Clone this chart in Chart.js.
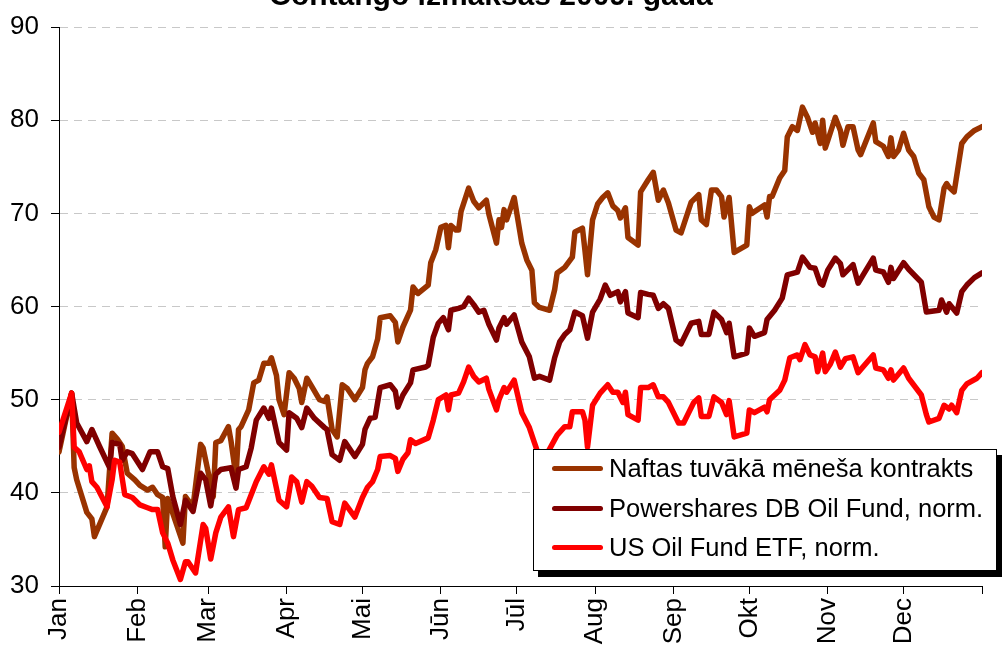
<!DOCTYPE html>
<html>
<head>
<meta charset="utf-8">
<script src="https://cdn.jsdelivr.net/npm/chart.js@4.4.0/dist/chart.umd.min.js"></script>
<style>
html,body{margin:0;padding:0;background:#fff;overflow:hidden;width:1003px;height:649px;}
#wrap{position:absolute;left:0;top:-40px;width:1003px;height:689px;}
#legend{position:absolute;left:533px;top:449px;width:462px;height:120px;border:1px solid #000;background:#fff;box-shadow:5px 6px 0 #000;font-family:"Liberation Sans",Arial,sans-serif;font-size:25.5px;color:#000;}
.row{position:absolute;left:0;height:30px;display:flex;align-items:center;white-space:nowrap;}
.swatch{display:inline-block;width:51px;height:5px;border-radius:3px;margin-left:18px;margin-right:6px;}
</style>
</head>
<body>
<div id="wrap"><canvas id="myChart" width="1003" height="689"></canvas></div>
<div id="legend"></div>
<script>
const chartTitle = "Contango izmaksas 2009. gadā";
const monthLabels = ["Jan","Feb","Mar","Apr","Mai","Jūn","Jūl","Aug","Sep","Okt","Nov","Dec"];
const monthStarts = [0,31,59,90,120,151,181,212,243,273,304,334,365];
const seriesNames = ["Naftas tuvākā mēneša kontrakts","Powershares DB Oil Fund, norm.","US Oil Fund ETF, norm."];
const seriesColors = ["#993300","#800000","#ff0000"];

// Naftas tuvākā mēneša kontrakts (day of year, value)
const naftaDays = [0,5,6,7,11,13,14,19,21,23,25,27,30,32,35,37,39,41,42,43,46,49,50,53,56,57,61,62,64,67,68,70,71,72,75,77,79,81,83,84,86,87,89,91,93,95,96,98,100,103,105,106,108,110,112,114,117,120,121,122,124,126,127,131,133,134,136,139,140,142,146,147,149,151,153,154,155,157,158,159,162,164,166,169,170,173,174,175,176,177,180,183,185,187,188,190,194,196,197,200,203,204,207,208,209,211,213,215,217,219,221,222,224,225,229,230,233,235,237,239,241,244,246,250,253,254,256,258,260,262,263,265,267,272,273,274,279,280,281,282,285,287,288,290,292,294,296,298,299,301,302,303,304,307,309,310,312,314,316,317,322,323,326,328,329,330,332,334,336,338,340,342,344,346,348,350,351,352,354,357,359,362,365];
const naftaVals = [44.4,50.7,42.7,41.4,37.9,37.2,35.3,38.5,46.4,45.8,45.0,42.1,41.4,40.8,40.3,40.6,39.8,39.5,34.2,39.4,37.0,34.6,39.6,38.5,45.2,44.8,39.6,45.4,45.6,47.1,45.6,41.7,46.8,47.1,48.9,51.8,52.1,53.9,53.9,54.5,52.6,50.0,48.4,52.9,52.3,51.2,49.7,52.3,51.4,50.0,49.8,50.3,46.8,46.0,51.6,51.2,50.0,51.3,53.2,53.9,54.6,56.5,58.8,59.0,58.3,56.2,57.8,59.6,62.1,61.4,62.3,64.7,66.1,68.5,68.7,66.3,68.7,68.2,68.2,70.2,72.7,71.3,70.6,71.4,69.9,66.8,69.3,68.5,70.4,69.3,71.7,66.8,65.0,63.9,60.4,59.9,59.6,61.8,63.6,64.2,65.3,68.0,68.4,66.0,63.4,69.3,71.0,71.7,72.2,70.8,70.3,69.5,70.6,67.4,66.6,72.3,73.6,74.4,71.4,72.5,71.1,68.2,67.9,71.2,72.0,69.3,68.8,72.5,72.5,71.8,69.6,71.7,65.8,66.6,70.7,70.0,70.9,69.6,71.8,71.8,73.8,74.6,78.2,79.3,78.9,81.4,80.3,78.7,79.7,77.5,80.0,77.0,77.8,80.3,78.9,77.3,79.3,79.3,76.8,76.3,79.7,77.7,77.2,76.1,78.1,76.1,76.8,78.6,76.8,76.1,74.3,73.6,70.7,69.6,69.3,72.7,73.2,72.8,72.3,77.5,78.2,78.9,79.3];

// Powershares DB Oil Fund, norm.
const psDays = [0,5,7,11,13,16,20,21,24,25,27,29,33,36,39,41,43,45,48,50,53,56,58,60,62,64,68,70,71,74,76,78,81,83,84,87,90,91,94,96,98,101,105,106,108,111,113,117,120,121,123,125,127,131,133,134,136,139,140,145,146,148,150,152,154,155,158,160,162,164,166,168,170,173,174,176,177,180,183,186,188,190,194,196,198,200,202,204,207,209,211,214,216,218,221,222,224,225,229,230,233,235,237,239,241,244,246,250,253,254,257,259,262,264,265,267,272,273,275,279,280,283,286,288,292,294,297,299,301,302,304,307,309,310,314,316,318,322,323,326,328,329,330,334,336,341,343,348,349,351,352,355,357,359,362,365];
const psVals = [44.9,50.7,47.5,45.5,46.8,45.0,42.7,45.4,45.2,43.5,44.4,44.2,42.5,44.4,44.4,42.8,42.6,39.6,36.6,39.2,38.0,42.1,41.4,38.6,42.0,42.5,42.7,40.5,42.5,42.8,44.8,47.8,49.1,48.0,49.1,45.4,44.6,48.6,48.0,47.0,49.1,48.0,47.0,46.8,44.1,43.5,45.5,43.9,45.2,46.8,48.0,48.1,51.3,51.6,50.9,49.2,50.5,51.8,53.2,53.5,53.7,56.7,58.2,58.8,57.5,59.6,59.8,60.0,60.9,60.2,59.4,59.6,58.1,56.4,57.7,58.8,58.1,59.1,56.2,54.6,52.3,52.5,52.1,54.5,56.2,57.0,57.5,59.4,59.0,56.6,59.4,60.8,62.3,61.2,61.6,60.5,61.6,59.3,58.8,61.5,61.3,61.2,59.8,60.3,59.8,56.4,56.0,58.2,58.4,57.0,57.0,59.4,58.6,57.2,58.2,54.6,55.0,57.7,56.8,57.2,58.6,59.6,60.9,63.4,63.7,65.3,64.2,64.1,62.5,62.3,63.9,65.2,64.6,63.4,64.5,62.5,63.4,65.2,63.9,63.7,62.6,64.2,63.0,64.7,64.0,62.6,59.4,59.6,60.7,59.4,60.3,59.3,61.6,62.3,63.1,63.6];

// US Oil Fund ETF, norm.
const usDays = [0,5,6,8,11,12,13,15,19,21,22,24,26,29,32,35,37,39,41,43,45,48,50,51,54,57,58,60,62,64,67,69,71,74,76,78,81,83,84,87,90,92,94,96,98,100,103,106,108,111,113,117,120,122,124,126,127,131,133,134,136,138,139,141,146,148,150,153,154,155,158,160,162,164,166,169,170,173,174,176,177,180,183,186,188,190,192,195,197,200,202,203,207,208,209,211,214,217,219,221,223,224,225,229,230,233,235,237,239,241,245,247,251,253,254,257,259,262,264,265,267,272,273,275,279,280,281,285,287,289,292,293,295,297,299,300,302,303,305,307,309,311,314,316,322,323,326,328,329,330,334,336,341,343,344,348,350,352,353,355,357,359,363,365];
const usVals = [46.5,50.7,44.9,44.4,42.5,42.9,41.2,40.6,38.5,41.4,43.5,43.3,39.8,39.5,38.7,38.4,38.2,38.2,35.7,34.6,32.8,30.7,32.6,32.6,31.4,36.6,36.2,32.9,35.7,37.4,38.5,35.3,38.2,38.4,39.8,41.2,42.8,42.0,43.0,39.2,38.5,41.7,41.2,39.0,41.2,40.7,39.5,39.4,36.9,36.6,38.9,37.4,39.5,40.6,41.2,42.5,43.9,44.0,43.7,42.3,43.6,44.3,45.7,45.3,45.9,47.8,50.0,50.5,48.9,50.5,50.7,51.9,53.5,52.5,51.9,52.3,51.1,48.9,50.0,51.3,50.8,52.1,48.6,47.0,45.4,43.8,43.7,45.2,46.2,47.1,47.1,48.7,48.7,47.8,44.9,49.4,50.7,51.6,50.8,50.8,49.7,50.8,48.4,47.8,51.3,51.3,51.6,50.3,50.3,49.7,47.5,47.5,49.7,50.2,48.2,48.2,50.3,49.7,48.4,49.9,46.0,46.4,48.9,48.6,49.2,48.7,50.0,51.0,52.1,54.5,54.8,54.3,55.9,54.8,54.6,53.0,55.0,53.0,53.8,55.1,53.5,54.4,54.6,52.9,54.8,53.4,53.2,52.3,53.2,52.1,53.4,52.3,50.5,48.4,47.6,48.0,49.4,49.0,49.4,48.6,51.0,51.7,52.3,52.9];

const fontFamily = '"Liberation Sans", Arial, sans-serif';

function toPoints(days, vals){
    return days.map((d, i) => ({x: d, y: vals[i]}));
}

const allDays = [naftaDays, psDays, usDays];
const allVals = [naftaVals, psVals, usVals];

const datasets = seriesNames.map((name, i) => ({
    label: name,
    data: toPoints(allDays[i], allVals[i]),
    borderColor: seriesColors[i],
    backgroundColor: seriesColors[i],
    borderWidth: 5.5,
    pointRadius: 0,
    tension: 0,
    fill: false,
    borderJoinStyle: "round",
    borderCapStyle: "round",
    order: 3 - i
}));

const ctx = document.getElementById("myChart").getContext("2d");
const myChart = new Chart(ctx, {
    type: "line",
    data: {datasets: datasets},
    options: {
        responsive: false,
        animation: false,
        devicePixelRatio: 1,
        layout: {padding: {left: 0, right: 21, top: 0, bottom: 0}},
        plugins: {
            legend: {display: false},
            tooltip: {enabled: false},
            title: {
                display: true,
                text: chartTitle,
                color: "#000",
                font: {family: fontFamily, size: 30, weight: "bold", lineHeight: 1.2},
                padding: {top: 19, bottom: 12}
            }
        },
        scales: {
            x: {
                type: "linear",
                min: 0,
                max: 365,
                afterBuildTicks: function(scale){
                    scale.ticks = monthStarts.map(v => ({value: v}));
                },
                afterFit: function(scale){
                    scale.height = 63;
                    scale.paddingRight = 0;
                    scale.paddingLeft = 0;
                },
                ticks: {
                    autoSkip: false,
                    maxRotation: 90,
                    minRotation: 90,
                    padding: 4,
                    color: "#000",
                    font: {family: fontFamily, size: 26},
                    callback: function(v, i){ return monthLabels[i] || ""; }
                },
                grid: {drawOnChartArea: false, drawTicks: true, tickLength: 8, tickColor: "#000"},
                border: {color: "#000", width: 1}
            },
            y: {
                min: 30,
                max: 90,
                afterFit: function(scale){ scale.width = 59; },
                ticks: {
                    stepSize: 10,
                    padding: 12,
                    color: "#000",
                    font: {family: fontFamily, size: 26}
                },
                grid: {
                    color: c => (c.tick && c.tick.value === 30) ? "rgba(0,0,0,0)" : "#c8c8c8",
                    tickColor: "#000",
                    tickLength: 8,
                    drawTicks: true
                },
                border: {color: "#000", width: 1, dash: [8, 6]}
            }
        }
    }
});

// legend box drawn over the plot like the original
const rowCenters = [19, 59, 98];
const legendBox = document.getElementById("legend");
seriesNames.forEach((name, i) => {
    const row = document.createElement("div");
    row.className = "row";
    row.style.top = (rowCenters[i] - 16) + "px";
    const sw = document.createElement("span");
    sw.className = "swatch";
    sw.style.backgroundColor = seriesColors[i];
    const txt = document.createElement("span");
    txt.textContent = name;
    row.appendChild(sw);
    row.appendChild(txt);
    legendBox.appendChild(row);
});
</script>
</body>
</html>
